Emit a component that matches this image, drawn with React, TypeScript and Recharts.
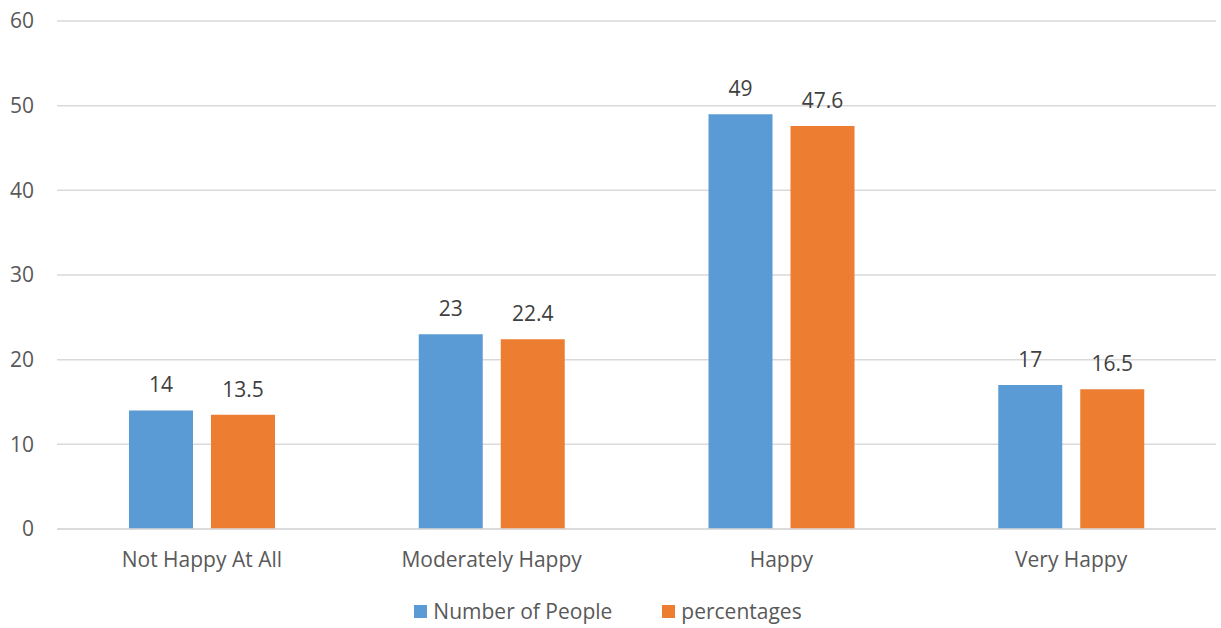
import { BarChart, Bar, XAxis, YAxis, CartesianGrid, Legend, LabelList } from "recharts";

const categories = ["Not Happy At All", "Moderately Happy", "Happy", "Very Happy"];
const numberOfPeople = [14, 23, 49, 17];
const percentages = [13.5, 22.4, 47.6, 16.5];
const yTicks = [0, 10, 20, 30, 40, 50, 60];

const BLUE = "#5B9BD5";
const ORANGE = "#ED7D31";
const FONT = "'Open Sans', 'Noto Sans', sans-serif";

const data = categories.map((name, i) => ({
    name,
    people: numberOfPeople[i],
    pct: percentages[i],
}));

function LegendBox() {
    const items = [
        { label: "Number of People", color: BLUE },
        { label: "percentages", color: ORANGE },
    ];
    return (
        <div style={{ display: "flex", justifyContent: "center", alignItems: "center", height: 40, paddingTop: 6, boxSizing: "border-box", fontFamily: FONT, fontSize: 21, color: "#595959" }}>
            {items.map((it, i) => (
                <div key={it.label} style={{ display: "flex", alignItems: "center", marginLeft: i ? 50 : 0 }}>
                    <span style={{ width: 13, height: 13, background: it.color, marginRight: 6, display: "inline-block" }} />
                    <span>{it.label}</span>
                </div>
            ))}
        </div>
    );
}

export default function App() {
    return (
        <div style={{ position: "absolute", left: 0, top: 0, background: "#fff" }}>
            <BarChart
                width={1221}
                height={628}
                data={data}
                margin={{ top: 21, right: 5, left: 0, bottom: 0 }}
                barCategoryGap={72}
                barGap={18}
            >
                <CartesianGrid vertical={false} stroke="#d9d9d9" strokeWidth={1.5} />
                <XAxis
                    dataKey="name"
                    height={59}
                    axisLine={{ stroke: "#d9d9d9", strokeWidth: 1.5 }}
                    tickLine={false}
                    tickMargin={17}
                    tick={{ fill: "#595959", fontSize: 21, fontFamily: FONT }}
                />
                <YAxis
                    width={57}
                    domain={[0, 60]}
                    ticks={yTicks}
                    axisLine={false}
                    tickLine={false}
                    tickMargin={17}
                    tick={{ fill: "#595959", fontSize: 21, fontFamily: FONT }}
                />
                <Legend verticalAlign="bottom" height={40} content={() => <LegendBox />} />
                <Bar dataKey="people" name="Number of People" fill={BLUE} isAnimationActive={false}>
                    <LabelList dataKey="people" position="top" offset={18} fill="#404040" fontSize={21} fontFamily={FONT} />
                </Bar>
                <Bar dataKey="pct" name="percentages" fill={ORANGE} isAnimationActive={false}>
                    <LabelList dataKey="pct" position="top" offset={18} fill="#404040" fontSize={21} fontFamily={FONT} />
                </Bar>
            </BarChart>
        </div>
    );
}
